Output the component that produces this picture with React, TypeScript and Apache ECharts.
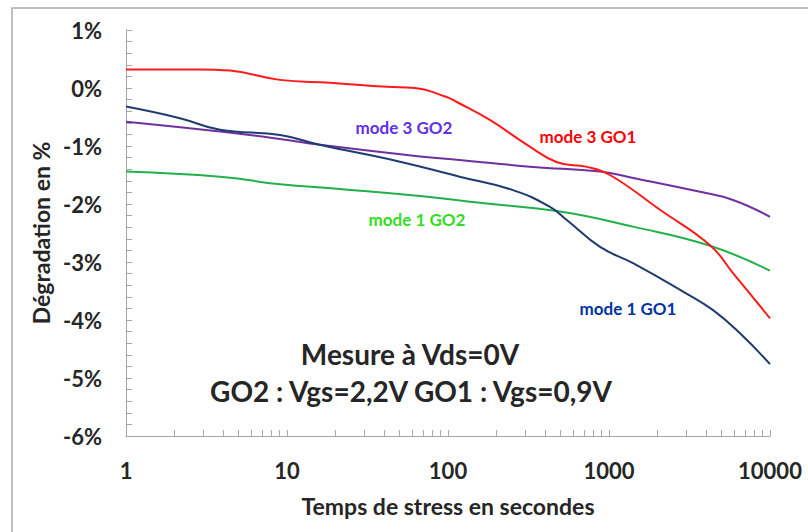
import React, { useEffect, useRef } from "react";
import * as echarts from "echarts";

const FONT = "Lato, 'Open Sans', sans-serif";

// time in seconds (x, log) and degradation in % (y)
const mode3GO1_t = [1, 1.41, 2.88, 4.43, 9.05, 18.5, 41.8, 62, 97, 115, 182, 310, 476, 730, 1015, 2073, 4240, 5890, 10000];
const mode3GO1_v = [0.32, 0.32, 0.32, 0.3, 0.14, 0.09, 0.02, 0.0, -0.15, -0.25, -0.55, -0.98, -1.28, -1.36, -1.5, -2.1, -2.71, -3.19, -3.97];

const mode3GO2_t = [1, 3.84, 9.05, 16, 67, 118, 337, 880, 1410, 3675, 5890, 10000];
const mode3GO2_v = [-0.58, -0.75, -0.88, -0.98, -1.18, -1.24, -1.36, -1.44, -1.55, -1.79, -1.93, -2.22];

const mode1GO1_t = [1, 2.16, 3.84, 9.05, 16, 50.3, 118, 253, 430, 549, 880, 1410, 2883, 4430, 6510, 10000];
const mode1GO1_v = [-0.32, -0.52, -0.72, -0.81, -0.98, -1.27, -1.53, -1.76, -2.05, -2.28, -2.74, -3.02, -3.51, -3.83, -4.23, -4.76];

const mode1GO2_t = [1, 3.84, 9.05, 21.3, 67, 158, 497, 1410, 4240, 10000];
const mode1GO2_v = [-1.44, -1.53, -1.66, -1.74, -1.86, -1.98, -2.13, -2.39, -2.72, -3.15];

const xTicks = [1, 10, 100, 1000, 10000];
const minorXTicks: number[] = [];
for (const d of [1, 10, 100, 1000]) for (let k = 1; k <= 10; k++) minorXTicks.push(d * k);

const pair = (t: number[], v: number[]) => t.map((x, i) => [x, v[i]]);

export default function App() {
  const ref = useRef<HTMLDivElement>(null);
  useEffect(() => {
    const chart = echarts.init(ref.current!, null, { renderer: "svg" });
    const axisGray = "#A6A6A6";
    const tickStyle = { fontFamily: FONT, fontWeight: "bold" as const, fontSize: 22, color: "#262626" };
    const nameStyle = { fontFamily: FONT, fontWeight: "bold" as const, fontSize: 23, color: "#262626" };
    const mkLine = (name: string, t: number[], v: number[], color: string) => ({
      type: "line",
      name,
      data: pair(t, v),
      smooth: 0.45,
      showSymbol: false,
      lineStyle: { color, width: 2 },
      itemStyle: { color },
    });
    chart.setOption({
      animation: false,
      backgroundColor: "#fff",
      grid: { left: 126, right: 38, top: 30, bottom: 96, containLabel: false },
      xAxis: {
        type: "log",
        logBase: 10,
        min: 1,
        max: 10000,
        name: "Temps de stress en secondes",
        nameLocation: "middle",
        nameGap: 58,
        nameTextStyle: { ...nameStyle },
        axisLine: { onZero: false, lineStyle: { color: axisGray, width: 1 } },
        axisTick: { show: true, inside: true, length: 6, lineStyle: { color: axisGray }, customValues: minorXTicks },
        axisLabel: { ...tickStyle, margin: 23, customValues: xTicks, formatter: (v: number) => String(Math.round(v)) },
        splitLine: { show: false },
      },
      yAxis: {
        type: "value",
        min: -6,
        max: 1,
        interval: 1,
        name: "Dégradation en %",
        nameLocation: "middle",
        nameGap: 72,
        nameRotate: 90,
        nameTextStyle: { ...nameStyle },
        axisLine: { show: true, lineStyle: { color: axisGray, width: 1 } },
        axisTick: { show: true, inside: true, length: 6, lineStyle: { color: axisGray } },
        minorTick: { show: true, splitNumber: 5, length: 6, lineStyle: { color: axisGray } },
        axisLabel: { ...tickStyle, margin: 24, formatter: (v: number) => `${v}%` },
        splitLine: { show: false },
      },
      series: [
        mkLine("mode 1 GO2", mode1GO2_t, mode1GO2_v, "#22B04A"),
        mkLine("mode 3 GO2", mode3GO2_t, mode3GO2_v, "#7030A0"),
        mkLine("mode 1 GO1", mode1GO1_t, mode1GO1_v, "#1F3C6E"),
        mkLine("mode 3 GO1", mode3GO1_t, mode3GO1_v, "#FF1A1A"),
      ],
      graphic: [
        { type: "rect", silent: true, shape: { x: 12, y: 8, width: 800, height: 530 }, style: { fill: "none", stroke: "#ABABAB", lineWidth: 1.5 } },
        { type: "text", x: 404, y: 127, style: { text: "mode 3 GO2", fill: "#6130E6", font: `bold 17px ${FONT}`, align: "center", verticalAlign: "middle" } },
        { type: "text", x: 588, y: 136, style: { text: "mode 3 GO1", fill: "#FF0000", font: `bold 17px ${FONT}`, align: "center", verticalAlign: "middle" } },
        { type: "text", x: 417, y: 219, style: { text: "mode 1 GO2", fill: "#33DD22", font: `bold 17px ${FONT}`, align: "center", verticalAlign: "middle" } },
        { type: "text", x: 628, y: 308, style: { text: "mode 1 GO1", fill: "#0033A0", font: `bold 17px ${FONT}`, align: "center", verticalAlign: "middle" } },
        { type: "text", x: 410, y: 354, style: { text: "Mesure à Vds=0V", fill: "#262626", font: `bold 28px ${FONT}`, align: "center", verticalAlign: "middle" } },
        { type: "text", x: 411, y: 391, style: { text: "GO2 : Vgs=2,2V GO1 : Vgs=0,9V", fill: "#262626", font: `bold 28px ${FONT}`, align: "center", verticalAlign: "middle" } },
      ],
    });
    return () => chart.dispose();
  }, []);
  return <div ref={ref} style={{ position: "fixed", left: 0, top: 0, width: 808, height: 532 }} />;
}
